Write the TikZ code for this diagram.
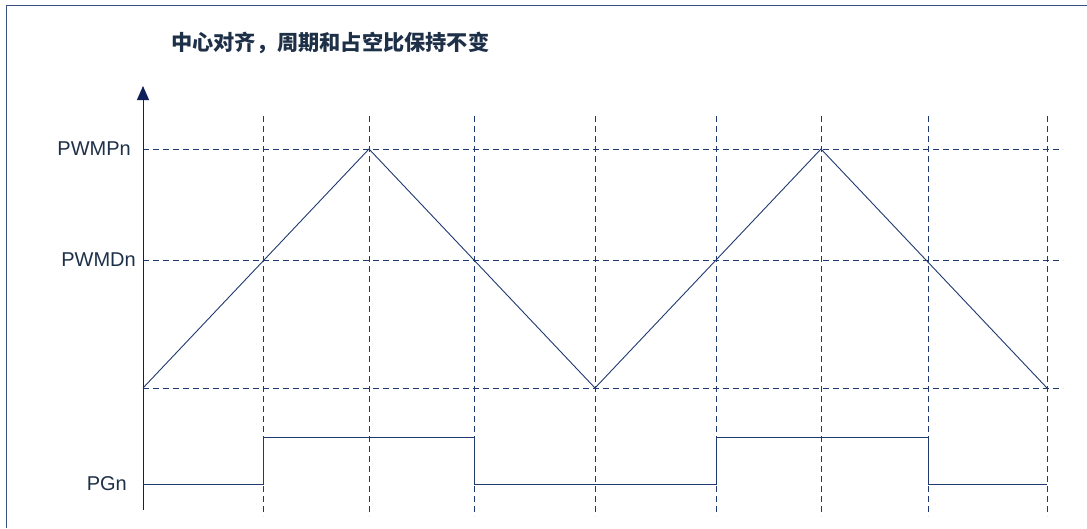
\documentclass[tikz,border=0pt]{standalone}
\usepackage{fontspec}
\setmainfont{Liberation Sans}
\newfontfamily\cjk{Noto Sans CJK SC}
\usetikzlibrary{arrows.meta}
\definecolor{navy}{HTML}{1F3A70}
\definecolor{axisc}{HTML}{0E1F5A}
\definecolor{framec}{HTML}{3A5080}
\definecolor{txt}{HTML}{1E3048}
\tikzset{
  wave/.style={navy, line width=0.9pt},
  grid/.style={navy, line width=0.8pt, dash pattern=on 6pt off 4pt},
  lbl/.style={anchor=east, text=txt, font=\fontsize{20}{22}\selectfont, inner sep=0pt},
}
\begin{document}
\begin{tikzpicture}[x=1pt,y=-1pt]
\useasboundingbox (0,0) rectangle (1087,528);
\fill[white] (0,0) rectangle (1087,528);
% frame (top and left only)
\draw[framec, line width=1.3pt] (6.5,528) -- (6.5,5.5) -- (1087,5.5);
% title
\node[anchor=west, text=txt, font=\cjk\bfseries\fontsize{21.2}{23}\selectfont, inner sep=0pt] (title) at (171,43) {中心对齐，周期和占空比保持不变};
% coordinates
\coordinate (o) at (143,388);
\coordinate (axtop) at (143,86);
\coordinate (axbot) at (143,510);
\foreach \n/\x in {1/263,2/369,3/474,4/595,5/716,6/821,7/928,8/1047}{
  \coordinate (vt\n) at (\x,116);
  \coordinate (vb\n) at (\x,516);
}
\coordinate (pl) at (143,149); \coordinate (pr) at (1063,149);
\coordinate (dl) at (143,260); \coordinate (dr) at (1063,260);
\coordinate (zl) at (143,388); \coordinate (zr) at (1063,388);
% grid
\foreach \n in {1,...,8}{ \draw[grid] (vt\n) -- (vb\n); }
\draw[grid] (pl) -- (pr);
\draw[grid] (dl) -- (dr);
\draw[grid] (zl) -- (zr);
% axis
\draw[axisc, line width=1pt, -{Triangle[width=12pt,length=14pt]}] (axbot) -- (axtop);
% labels
\node[lbl] (lp) at (131,149) {PWMPn};
\node[lbl] (ld) at (136,260) {PWMDn};
\node[lbl] (lg) at (127,484) {PGn};
% triangle wave
\coordinate (t0) at (143,388);
\coordinate (t1) at (369,149);
\coordinate (t2) at (595,388);
\coordinate (t3) at (821,149);
\coordinate (t4) at (1047,388);
\draw[wave] (t0) -- (t1) -- (t2) -- (t3) -- (t4);
% PG wave
\coordinate (g0) at (143,484);
\coordinate (g1) at (263,484); \coordinate (g2) at (263,437);
\coordinate (g3) at (474,437); \coordinate (g4) at (474,484);
\coordinate (g5) at (716,484); \coordinate (g6) at (716,437);
\coordinate (g7) at (928,437); \coordinate (g8) at (928,484);
\coordinate (g9) at (1047,484);
\draw[wave] (g0) -- (g1) -- (g2) -- (g3) -- (g4) -- (g5) -- (g6) -- (g7) -- (g8) -- (g9);
\end{tikzpicture}
\end{document}
